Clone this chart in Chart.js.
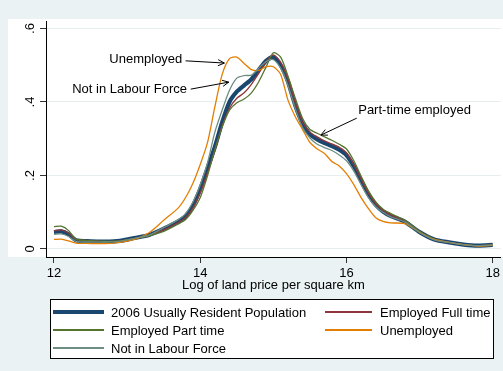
<!DOCTYPE html>
<html>
<head>
<meta charset="utf-8">
<script src="https://cdn.jsdelivr.net/npm/chart.js@4.4.1/dist/chart.umd.min.js"></script>
<style>
  html, body { margin: 0; padding: 0; background: #eaf2f3; }
  #wrap { width: 503px; height: 371px; }
</style>
</head>
<body>
<div id="wrap"><canvas id="densityChart" width="503" height="371"></canvas></div>
<script>
// log land price grid where the densities were evaluated
const logPrice = [12.0, 12.1, 12.2, 12.3, 12.5, 12.7, 12.9, 13.1, 13.3, 13.5, 13.7, 13.8, 13.9, 14.0,
    14.1, 14.2, 14.3, 14.4, 14.5, 14.6, 14.7, 14.8, 14.9, 15.0, 15.1, 15.2, 15.3, 15.4, 15.5, 15.6,
    15.7, 15.8, 15.9, 16.0, 16.1, 16.2, 16.3, 16.4, 16.5, 16.6, 16.8, 17.0, 17.2, 17.4, 17.6, 17.8, 18.0];

const population = [.046, .048, .040, .024, .021, .020, .022, .030, .038, .055, .075, .089, .118, .163,
    .220, .278, .345, .400, .428, .445, .462, .487, .512, .522, .500, .455, .390, .340, .312, .298,
    .288, .280, .270, .255, .225, .185, .148, .120, .102, .090, .074, .046, .026, .018, .012, .009, .011];

const fullTime = [.050, .052, .043, .026, .022, .020, .022, .029, .037, .052, .072, .086, .112, .153,
    .208, .268, .335, .383, .410, .425, .448, .478, .510, .528, .508, .462, .398, .345, .318, .305,
    .294, .286, .277, .262, .230, .190, .152, .123, .105, .093, .076, .047, .026, .018, .012, .009, .011];

const partTime = [.061, .062, .050, .027, .023, .021, .022, .028, .036, .048, .068, .080, .105, .140,
    .200, .270, .332, .378, .398, .408, .425, .455, .495, .534, .522, .470, .410, .355, .325, .315,
    .305, .296, .285, .272, .240, .198, .158, .128, .108, .097, .078, .048, .027, .018, .012, .009, .011];

const unemployed = [.026, .027, .022, .016, .015, .015, .018, .026, .044, .078, .112, .140, .179, .230,
    .290, .387, .475, .518, .522, .505, .488, .486, .496, .496, .475, .405, .360, .325, .290, .272,
    .260, .238, .226, .205, .175, .140, .110, .085, .075, .071, .069, .045, .026, .018, .012, .008, .010];

const notInLabour = [.040, .041, .034, .021, .019, .019, .021, .029, .038, .058, .080, .096, .128, .175,
    .235, .318, .378, .432, .465, .472, .473, .492, .510, .515, .492, .445, .382, .330, .302, .285,
    .276, .268, .256, .240, .212, .175, .140, .115, .100, .088, .073, .045, .025, .018, .012, .009, .011];

const seriesNames = ["2006 Usually Resident Population", "Employed Full time", "Employed Part time",
    "Unemployed", "Not in Labour Force"];
const seriesColors = ["#1a476f", "#90353b", "#55752f", "#e37e00", "#6e8e84"];
const seriesWidths = [4.2, 1.3, 1.3, 1.3, 1.3];

const xTicks = [12, 14, 16, 18];
const yTicks = [0, .2, .4, .6];
const yTickLabels = ["0", ".2", ".4", ".6"];
const xTitle = "Log of land price per square km";

const FONT = "'Liberation Sans', Arial, sans-serif";

// text callouts with arrows, in data units
const callouts = [
    { text: "Unemployed", align: "right", at: [13.755, .517], from: [13.80, .512], to: [14.33, .506] },
    { text: "Not in Labour Force", align: "right", at: [13.82, .433], from: [13.87, .435], to: [14.39, .454] },
    { text: "Part-time employed", align: "left", at: [16.16, .378], from: [16.14, .356], to: [15.65, .31] }
];

function toPoints(values) {
    return logPrice.map((x, i) => ({ x: x, y: values[i] }));
}

const allSeries = [population, fullTime, partTime, unemployed, notInLabour];

const datasets = allSeries.map((values, i) => ({
    label: seriesNames[i],
    data: toPoints(values),
    borderColor: seriesColors[i],
    borderWidth: seriesWidths[i],
    pointRadius: 0,
    tension: 0.25,
    fill: false,
    // population line sits underneath the thin ones
    order: allSeries.length - i
}));

function drawArrow(ctx, x1, y1, x2, y2) {
    const ang = Math.atan2(y2 - y1, x2 - x1);
    const head = 7;
    ctx.beginPath();
    ctx.moveTo(x1, y1);
    ctx.lineTo(x2, y2);
    ctx.moveTo(x2 - head * Math.cos(ang - 0.45), y2 - head * Math.sin(ang - 0.45));
    ctx.lineTo(x2, y2);
    ctx.lineTo(x2 - head * Math.cos(ang + 0.45), y2 - head * Math.sin(ang + 0.45));
    ctx.stroke();
}

const backdrop = {
    id: "backdrop",
    beforeDraw(chart) {
        const ctx = chart.ctx;
        ctx.save();
        ctx.fillStyle = "#eaf2f3";
        ctx.fillRect(0, 0, chart.width, chart.height);
        ctx.fillStyle = "#ffffff";
        ctx.fillRect(8, 19, chart.width - 8, chart.chartArea.bottom - 19);
        ctx.restore();
    },
    afterDraw(chart) {
        const ctx = chart.ctx;
        const xs = chart.scales.x;
        const ys = chart.scales.y;
        ctx.save();

        // vertical y tick labels
        ctx.fillStyle = "#000";
        ctx.font = "13px " + FONT;
        ctx.textAlign = "center";
        ctx.textBaseline = "middle";
        yTicks.forEach((v, i) => {
            ctx.save();
            ctx.translate(30, ys.getPixelForValue(v));
            ctx.rotate(-Math.PI / 2);
            ctx.fillText(yTickLabels[i], 0, 0);
            ctx.restore();
        });

        // callouts
        ctx.strokeStyle = "#000";
        ctx.lineWidth = 1;
        ctx.font = "13px " + FONT;
        callouts.forEach(c => {
            ctx.textAlign = c.align;
            ctx.fillText(c.text, xs.getPixelForValue(c.at[0]), ys.getPixelForValue(c.at[1]));
            drawArrow(ctx,
                xs.getPixelForValue(c.from[0]), ys.getPixelForValue(c.from[1]),
                xs.getPixelForValue(c.to[0]), ys.getPixelForValue(c.to[1]));
        });

        // legend box, two columns
        ctx.fillStyle = "#ffffff";
        ctx.fillRect(50, 299, 443, 59);
        ctx.strokeRect(50.5, 299.5, 443, 59);
        const lineX = [53, 325];
        const lineW = [51, 47];
        const textX = [111, 380];
        const rowY = [312, 330, 348];
        ctx.font = "13px " + FONT;
        ctx.textAlign = "left";
        chart.data.datasets.forEach((ds, i) => {
            const col = i % 2;
            const row = Math.floor(i / 2);
            ctx.strokeStyle = ds.borderColor;
            ctx.lineWidth = i === 0 ? 4 : 2;
            ctx.beginPath();
            ctx.moveTo(lineX[col], rowY[row]);
            ctx.lineTo(lineX[col] + lineW[col], rowY[row]);
            ctx.stroke();
            ctx.fillStyle = "#000";
            ctx.fillText(ds.label, textX[col], rowY[row] + 1);
        });
        ctx.restore();
    }
};

new Chart(document.getElementById("densityChart"), {
    type: "line",
    data: { datasets: datasets },
    options: {
        responsive: false,
        animation: false,
        devicePixelRatio: 1,
        layout: { padding: { left: 0, right: 0, top: 21, bottom: 0 } },
        plugins: {
            legend: { display: false },
            tooltip: { enabled: false }
        },
        scales: {
            x: {
                type: "linear",
                min: 11.891,
                max: 18.109,
                afterBuildTicks: s => { s.ticks = xTicks.map(v => ({ value: v })); },
                afterFit: s => { s.height = 114; },
                ticks: {
                    color: "#000",
                    font: { size: 13, family: FONT },
                    padding: 3,
                    maxRotation: 0,
                    autoSkip: false
                },
                grid: { drawOnChartArea: false, tickLength: 6, tickColor: "#333" },
                border: { color: "#000", width: 1 },
                title: {
                    display: true,
                    text: xTitle,
                    color: "#000",
                    font: { size: 13, family: FONT },
                    padding: { top: 0, bottom: 78 }
                }
            },
            y: {
                min: -0.0218,
                max: 0.6204,
                afterBuildTicks: s => { s.ticks = yTicks.map(v => ({ value: v })); },
                afterFit: s => { s.width = 46; },
                ticks: { display: false },
                grid: { color: "#e6eef0", lineWidth: 1, tickLength: 6, tickColor: "#333" },
                border: { color: "#000", width: 1 }
            }
        }
    },
    plugins: [backdrop]
});
</script>
</body>
</html>
